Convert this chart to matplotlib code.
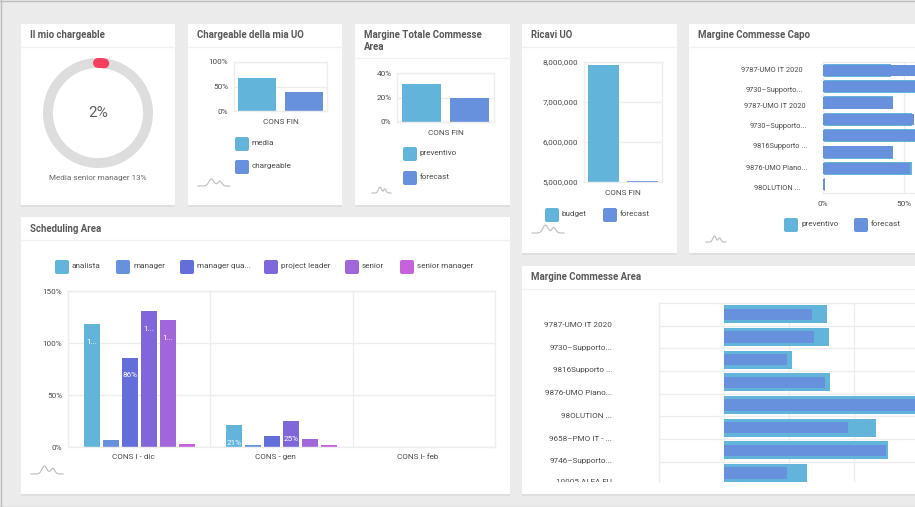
import numpy as np
import matplotlib
matplotlib.use('Agg')
import matplotlib.pyplot as plt
from matplotlib.patches import Rectangle, FancyBboxPatch
from matplotlib.ticker import FuncFormatter
from matplotlib.transforms import Bbox

plt.rcParams['font.family'] = ['Roboto', 'DejaVu Sans']

# data
chargeable_mine = 2
chargeable_label = 'Media senior manager 13%'

uo_names = ['media', 'chargeable']
uo_values = [68, 38]

totale_names = ['preventivo', 'forecast']
totale_values = [31, 19.5]

ricavi_names = ['budget', 'forecast']
ricavi_values = [7920000, 5030000]

capo_labels = ['9787-UMO IT 2020', '9730–Supporto...', '9787-UMO IT 2020', '9730–Supporto...',
               '9816Supporto ...', '9876-UMO Piano...', '98OLUTION ...']
capo_preventivo = [42, 70, 43, 55, 70, 43, 55, 1]
capo_forecast = [70, 70, 43, 56, 70, 43, 54, 1]

sched_months = ['CONS I - dic', 'CONS - gen', 'CONS I- feb']
sched_roles = ['analista', 'manager', 'manager qua...', 'project leader', 'senior', 'senior manager']
sched_dic = [118, 7, 86, 131, 122, 3]
sched_gen = [21, 2, 11, 25, 8, 2]
sched_feb = [0, 0, 0, 0, 0, 0]
sched_dic_labels = ['1...', '', '86%', '1...', '1...', '']
sched_gen_labels = ['21%', '', '', '25%', '', '']

area_labels = ['9787-UMO IT 2020', '9730–Supporto...', '9816Supporto ...', '9876-UMO Piano...',
               '98OLUTION ...', '9658–PMO IT - ...', '9746–Supporto...', '10005 ALFA FU']
area_preventivo = [79.3, 80.6, 52, 81.6, 160, 117, 125.8, 63.5]
area_forecast = [68, 69.6, 48.7, 77.5, 160, 95, 124.7, 48.7]

# styles
W, H = 915, 507
BLUE = '#62B4DA'
BLUE2 = '#6791DC'
ROLE_COLORS = ['#62B4DA', '#6791DC', '#636EDB', '#7F67DB', '#A066DA', '#C861DC']
GRID = '#EDEDED'
TITLE = '#58585A'
TEXT = '#4A4A4A'
TICK = 5.9

fig = plt.figure(figsize=(W / 100, H / 100), dpi=100, facecolor='#EBEBEB')
bg = fig.add_axes([0, 0, 1, 1])
bg.set_xlim(0, W)
bg.set_ylim(H, 0)
bg.axis('off')


def panel(x0, y0, x1, y1):
    ax = fig.add_axes([x0 / W, 1 - y1 / H, (x1 - x0) / W, (y1 - y0) / H])
    ax.set_facecolor('none')
    for s in ax.spines.values():
        s.set_color(GRID)
        s.set_linewidth(1)
    ax.tick_params(length=0, labelsize=TICK, labelcolor=TEXT, pad=4)
    ax.tick_params(axis='x', pad=5.5)
    ax.set_axisbelow(True)
    return ax


def card(x0, y0, x1, y1, title, sep=47, title_y=None):
    bg.add_patch(Rectangle((x0, y0 + 1.5), x1 - x0, y1 - y0, fc='#DFDFDF', ec='none'))
    bg.add_patch(Rectangle((x0, y0), x1 - x0, y1 - y0, fc='white', ec='none'))
    bg.plot([x0, x1], [sep, sep], color='#F1F1F1', lw=1)
    if title_y is None:
        title_y = y0 + 11.5
    bg.text(x0 + 9, title_y, title, fontsize=6.9, fontweight='bold', color=TITLE,
            va='center', linespacing=1.3)


def swatch(x, y, color, label, size=14):
    bg.add_patch(FancyBboxPatch((x + 1.5, y + 1.5), size - 3, size - 3, boxstyle='round,pad=1.5,rounding_size=2',
                                fc=color, ec='none'))
    bg.text(x + size + 3, y + size / 2 - 1, label, fontsize=TICK, color=TEXT, va='center')


def logo(x, y, w, h):
    # small grey mark in the corner of the cards
    t = np.linspace(0, 1, 40)
    s = 1 - (np.exp(-((t - .42) / .11) ** 2) + .7 * np.exp(-((t - .68) / .09) ** 2))
    bg.plot(x + t * w, y + s * h, color='#BDBDBD', lw=0.8)


def pct(v, pos):
    return '%d%%' % v


def col_chart(rect, values, ymin, ymax, ticks, fmt, bar_px, xlabel):
    ax = panel(*rect)
    pos = np.arange(len(values))
    n = len(values)
    ax.bar(pos, np.array(values) - ymin, bottom=ymin, width=bar_px, color=[BLUE, BLUE2][:n], zorder=2)
    ax.set_xlim(-0.5, n - 0.5)
    ax.set_ylim(ymin, ymax)
    ax.set_yticks(ticks)
    ax.yaxis.set_major_formatter(FuncFormatter(fmt))
    ax.grid(axis='y', color=GRID, lw=1)
    ax.set_xticks([0.5])
    ax.set_xticklabels([xlabel])
    return ax


# cards
card(21, 24, 175, 205, 'Il mio chargeable')
card(188, 24, 342, 205, 'Chargeable della mia UO')
card(355, 24, 510, 205, 'Margine Totale Commesse\nArea', sep=58, title_y=41)
card(522, 24, 677, 253, 'Ricavi UO')
card(689, 24, 930, 253, 'Margine Commesse Capo')
card(21, 217, 510, 494, 'Scheduling Area', sep=240)
card(522, 266, 930, 494, 'Margine Commesse Area', sep=289)

# window frame
bg.plot([0.5, 0.5], [0, H], color='#BDBDBD', lw=1)
bg.plot([0, W], [0.5, 0.5], color='#BDBDBD', lw=1)
bg.plot([0, W], [506.5, 506.5], color='#BDBDBD', lw=1)

# donut
dn = panel(43, 58, 153, 168)
dn.axis('off')
dn.pie([100], colors=['#DDDDDD'], radius=1, wedgeprops={'width': 0.18}, startangle=90)
dn.set_xlim(-1, 1)
dn.set_ylim(-1, 1)
theta = np.radians(90 - np.linspace(0, chargeable_mine, 8) * 3.6)
dn.plot(0.91 * np.cos(theta), 0.91 * np.sin(theta), color='#F4405E', lw=7.2, solid_capstyle='round')
dn.text(0, 0, '%d%%' % chargeable_mine, ha='center', va='center', fontsize=11, color='#5F5F5F')
bg.text(98, 178, chargeable_label, ha='center', va='center', fontsize=TICK, color='#6A6A6A')

# small column charts
col_chart((234, 62, 327, 111), uo_values, 0, 100, [0, 50, 100], pct, 0.81, 'CONS FIN')
swatch(235, 137, BLUE, uo_names[0])
swatch(235, 160, BLUE2, uo_names[1])
logo(198, 179, 32, 7)

col_chart((397, 73, 494, 122), totale_values, 0, 40, [0, 20, 40], pct, 0.81, 'CONS FIN')
swatch(403, 147, BLUE, totale_names[0])
swatch(403, 171, BLUE2, totale_names[1])
logo(372, 187, 19, 6)

col_chart((584, 62, 662, 182), ricavi_values, 5000000, 8000000, [5000000, 6000000, 7000000, 8000000],
          lambda v, p: format(int(v), ','), 0.81, 'CONS FIN')
swatch(545, 208, BLUE, ricavi_names[0])
swatch(603, 208, BLUE2, ricavi_names[1])
logo(532, 225, 32, 8)

# margine commesse capo
ax = panel(823, 62, 985, 193)
rows = np.arange(len(capo_preventivo))
ax.barh(rows, capo_preventivo, height=0.8, color=BLUE, zorder=2)
ax.barh(rows, capo_forecast, height=0.68, color=BLUE2, zorder=3)
ax.set_xlim(0, 100)
ax.set_ylim(len(rows) - 0.5, -0.5)
ax.set_yticks([])
ax.set_xticks([0, 50])
ax.xaxis.set_major_formatter(FuncFormatter(pct))
ax.grid(axis='x', color=GRID, lw=1)
capo_y = [71, 91, 107, 127, 147, 168, 188]
capo_x = [803, 803, 806, 807, 807, 807, 800]
capo_clip = Bbox([[0, H - 191], [W, H]])
for lab, lx, ly in zip(capo_labels, capo_x, capo_y):
    t = bg.text(lx, ly, lab, ha='right', va='center', fontsize=5.3, color=TEXT)
    t.set_clip_box(capo_clip)
    t.set_clip_on(True)
swatch(784, 218, BLUE, 'preventivo')
swatch(854, 218, BLUE2, 'forecast')
logo(706, 236, 20, 6)

# scheduling
ax = panel(68, 291, 495, 447)
months = np.arange(len(sched_months))
step = 19 / 142.3
width = 16 / 142.3
sched = np.array([sched_dic, sched_gen, sched_feb])
for i, c in enumerate(ROLE_COLORS):
    ax.bar(months + (i - 2.5) * step, sched[:, i], width=width, color=c, zorder=2)
for m, labels in enumerate([sched_dic_labels, sched_gen_labels]):
    for i, lab in enumerate(labels):
        if lab:
            ax.annotate(lab, (m + (i - 2.5) * step, sched[m, i]), xytext=(0, -12.8), textcoords='offset points',
                        ha='center', va='center', color='white', fontsize=TICK, zorder=4)
ax.set_xlim(-0.5, 2.5)
ax.set_ylim(0, 150)
ax.set_yticks([0, 50, 100, 150])
ax.yaxis.set_major_formatter(FuncFormatter(pct))
ax.set_xticks(months)
ax.set_xticklabels([])
# the category names sit a little left of the group centres
for m, lab in zip(months, sched_months):
    ax.annotate(lab, (m, 0), xytext=(-4.5, -7.5), textcoords='offset points', ha='center', va='center',
                fontsize=TICK, color=TEXT, annotation_clip=False)
ax.grid(axis='y', color=GRID, lw=1)
for b in [0.5, 1.5]:
    ax.axvline(b, color=GRID, lw=1)
for x, lab, c in zip([55, 116, 180, 264, 345, 400], sched_roles, ROLE_COLORS):
    swatch(x, 260, c, lab)
logo(31, 466, 32, 8)

# margine commesse area
ax = panel(659, 303, 984, 482)
rows = np.arange(len(area_preventivo))
ax.barh(rows, area_preventivo, height=0.8, color=BLUE, zorder=2)
ax.barh(rows, area_forecast, height=0.5, color=BLUE2, zorder=3)
ax.set_xlim(-50, 200)
ax.set_ylim(7.4, -0.5)
ax.set_xticks([-50, 0, 50, 100, 150])
ax.set_xticklabels([])
ax.set_yticks(rows[:-1] + 0.5)
ax.set_yticklabels([])
ax.grid(color=GRID, lw=1)
for s in ['bottom', 'right']:
    ax.spines[s].set_visible(False)
area_y = [325, 348, 370, 393, 416, 439, 461, 482]
area_clip = Bbox([[0, H - 482], [W, H]])
for lab, ly in zip(area_labels, area_y):
    t = bg.text(612, ly, lab, ha='right', va='center', fontsize=TICK, color=TEXT)
    t.set_clip_box(area_clip)
    t.set_clip_on(True)

fig.savefig('out.png', dpi=100, facecolor=fig.get_facecolor())
